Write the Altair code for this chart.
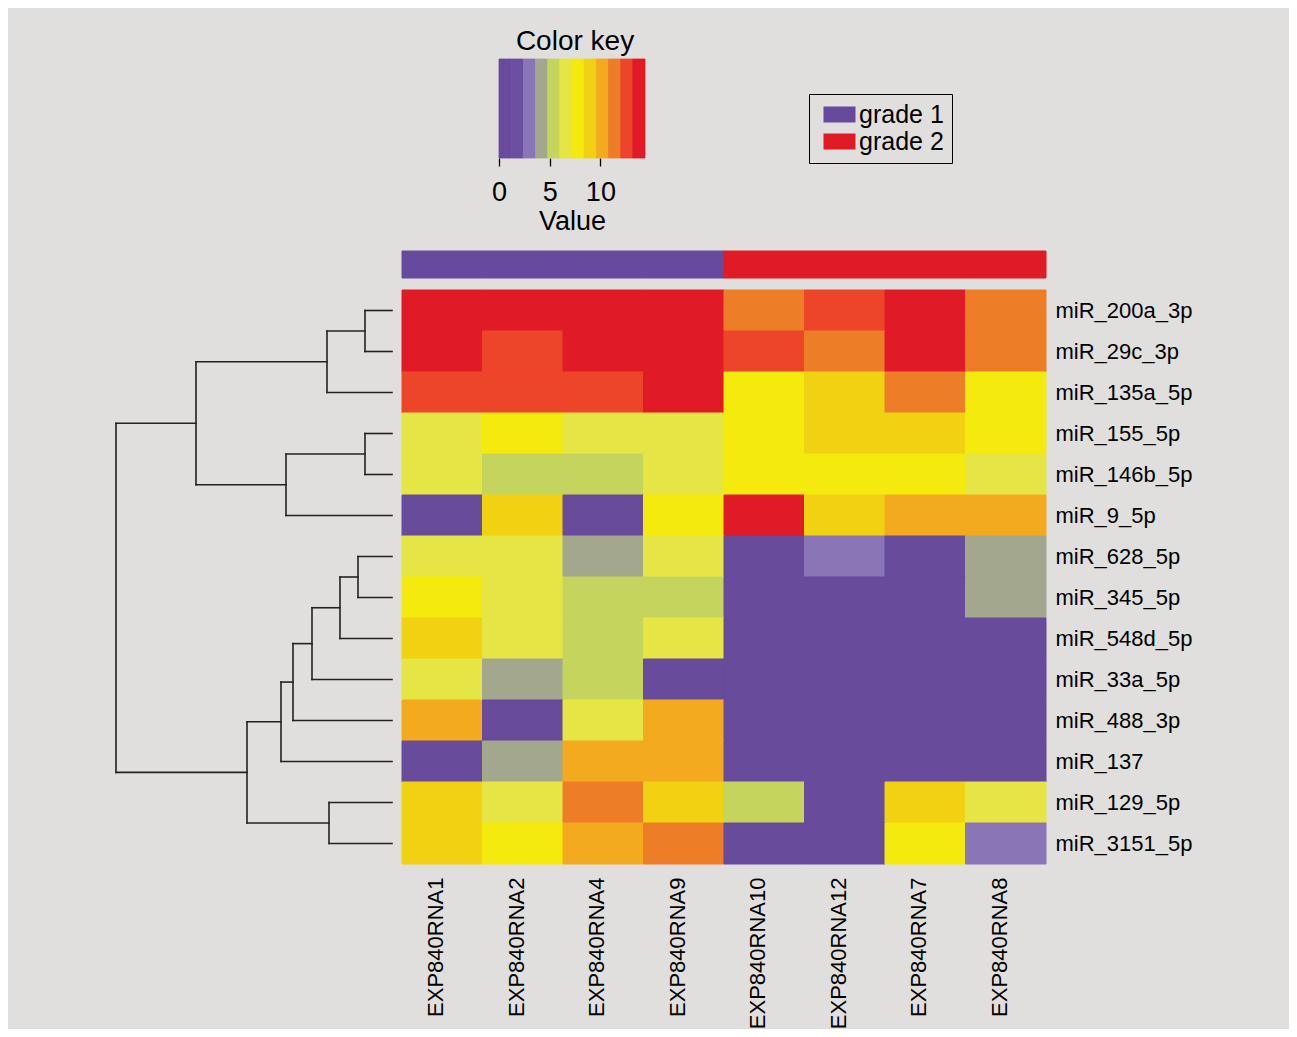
import altair as alt
import pandas as pd

FONT = "Liberation Sans"

# ---- data ----
samples = ["EXP840RNA1", "EXP840RNA2", "EXP840RNA4", "EXP840RNA9",
           "EXP840RNA10", "EXP840RNA12", "EXP840RNA7", "EXP840RNA8"]
sample_grade = ["grade 1", "grade 1", "grade 1", "grade 1",
                "grade 2", "grade 2", "grade 2", "grade 2"]
grade_levels = ["grade 1", "grade 2"]
grade_colors = ["#674A9D", "#E01B27"]

mirnas = ["miR_200a_3p", "miR_29c_3p", "miR_135a_5p", "miR_155_5p",
          "miR_146b_5p", "miR_9_5p", "miR_628_5p", "miR_345_5p",
          "miR_548d_5p", "miR_33a_5p", "miR_488_3p", "miR_137",
          "miR_129_5p", "miR_3151_5p"]

# expression values (rows = miRNAs, cols = samples), estimated from colours
values = [
    [13.8, 13.8, 13.8, 13.8, 11.4, 12.6, 13.8, 11.4],
    [13.8, 12.6, 13.8, 13.8, 12.6, 11.4, 13.8, 11.4],
    [12.6, 12.6, 12.6, 13.8, 7.8, 9.0, 11.4, 7.8],
    [6.6, 7.8, 6.6, 6.6, 7.8, 9.0, 9.0, 7.8],
    [6.6, 5.4, 5.4, 6.6, 7.8, 7.8, 7.8, 6.6],
    [0.6, 9.0, 0.6, 7.8, 13.8, 9.0, 10.2, 10.2],
    [6.6, 6.6, 4.2, 6.6, 0.6, 3.0, 0.6, 4.2],
    [7.8, 6.6, 5.4, 5.4, 0.6, 0.6, 0.6, 4.2],
    [9.0, 6.6, 5.4, 6.6, 0.6, 0.6, 0.6, 0.6],
    [6.6, 4.2, 5.4, 0.6, 0.6, 0.6, 0.6, 0.6],
    [10.2, 0.6, 6.6, 10.2, 0.6, 0.6, 0.6, 0.6],
    [0.6, 4.2, 10.2, 10.2, 0.6, 0.6, 0.6, 0.6],
    [9.0, 6.6, 11.4, 9.0, 5.4, 0.6, 9.0, 6.6],
    [9.0, 7.8, 10.2, 11.4, 0.6, 0.6, 7.8, 3.0],
]

# colour key bins
key_breaks = [0, 1.2, 2.4, 3.6, 4.8, 6.0, 7.2, 8.4, 9.6, 10.8, 12.0, 13.2, 14.4]
key_colors = ["#694B9C", "#6C4FA0", "#8A75B6", "#A2A78E", "#C5D45C", "#E5E545",
              "#F4EA0D", "#F0D213", "#F4AA1F", "#EE7D28", "#ED452A", "#E01B27"]
key_ticks = [0, 5, 10]

# row dendrogram: (node, child a, child b, merge height)
merges = [
    ("n1", 0, 1, 1.35),
    ("n2", "n1", 2, 3.25),
    ("n3", 3, 4, 1.35),
    ("n4", "n3", 5, 5.3),
    ("n5", "n2", "n4", 9.8),
    ("n6", 6, 7, 1.7),
    ("n7", "n6", 8, 2.6),
    ("n8", "n7", 9, 4.0),
    ("n9", "n8", 10, 4.95),
    ("n10", "n9", 11, 5.55),
    ("n11", 12, 13, 3.15),
    ("n12", "n10", "n11", 7.25),
    ("n13", "n5", "n12", 13.8),
]

# ---- tables ----
heat_df = pd.DataFrame([
    {"mirna": m, "sample": s, "value": values[i][j]}
    for i, m in enumerate(mirnas) for j, s in enumerate(samples)
])
bar_df = pd.DataFrame({"sample": samples, "grade": sample_grade,
                       "row": ["grade"] * len(samples)})
key_df = pd.DataFrame({
    "start": key_breaks[:-1],
    "end": key_breaks[1:],
    "mid": [(a + b) / 2 for a, b in zip(key_breaks[:-1], key_breaks[1:])],
    "row": ["key"] * (len(key_breaks) - 1),
})

pos = {i: (0.0, i + 0.5) for i in range(len(mirnas))}
segs = []
for name, a, b, h in merges:
    ha, ya = pos[a]
    hb, yb = pos[b]
    segs.append({"h1": h, "h2": h, "y1": ya, "y2": yb})
    segs.append({"h1": ha, "h2": h, "y1": ya, "y2": ya})
    segs.append({"h1": hb, "h2": h, "y1": yb, "y2": yb})
    pos[name] = (h, (ya + yb) / 2)
seg_df = pd.DataFrame(segs)
max_h = max(m[3] for m in merges)

# ---- layout (plot-area pixels) ----
HEAT_X = [394, 1038]
HEAT_Y = [232, 806]
BAR_Y = [193, 220]
DENDRO_X = [384, 108]
KEY_X = [491, 637]
KEY_Y = [1, 100]

color_scale = alt.Scale(type="threshold", domain=key_breaks[1:-1], range=key_colors)

heat = alt.Chart(heat_df).mark_rect(strokeWidth=1).encode(
    x=alt.X("sample:N",
            scale=alt.Scale(domain=samples, range=HEAT_X, paddingInner=0, paddingOuter=0),
            axis=alt.Axis(orient="bottom", title=None, labelAngle=-90, domain=False,
                          ticks=False, labelPadding=13, labelFontSize=22, labelFont=FONT,
                          labelColor="black", labelOffset=-6, labelLimit=300)),
    y=alt.Y("mirna:N",
            scale=alt.Scale(domain=mirnas, range=HEAT_Y, paddingInner=0, paddingOuter=0),
            axis=alt.Axis(orient="right", title=None, domain=False, ticks=False,
                          labelPadding=9, labelFontSize=22, labelFont=FONT,
                          labelColor="black", labelLimit=300)),
    color=alt.Color("value:Q", scale=color_scale, legend=None),
    stroke=alt.Stroke("value:Q", scale=color_scale, legend=None),
)

colbar = alt.Chart(bar_df).mark_rect(strokeWidth=1).encode(
    x=alt.X("sample:N",
            scale=alt.Scale(domain=samples, range=HEAT_X, paddingInner=0, paddingOuter=0),
            axis=None),
    y=alt.Y("row:N",
            scale=alt.Scale(domain=["grade"], range=BAR_Y, paddingInner=0, paddingOuter=0),
            axis=None),
    color=alt.Color("grade:N",
                    scale=alt.Scale(domain=grade_levels, range=grade_colors),
                    legend=alt.Legend(title=None, orient="none", legendX=801, legendY=36,
                                      padding=8, strokeColor="black",
                                      symbolType="M-2,-1H2V1H-2Z", symbolSize=256,
                                      symbolStrokeWidth=0, symbolOpacity=1,
                                      symbolOffset=10, labelOffset=7, rowPadding=1,
                                      labelFontSize=25, labelFont=FONT,
                                      labelColor="black", labelLimit=300)),
    stroke=alt.Stroke("grade:N",
                      scale=alt.Scale(domain=grade_levels, range=grade_colors),
                      legend=None),
)

dendro = alt.Chart(seg_df).mark_rule(color="#222222", strokeWidth=1.6, strokeCap="square").encode(
    x=alt.X("h1:Q", scale=alt.Scale(domain=[0, max_h], range=DENDRO_X, nice=False, zero=False),
            axis=None),
    x2="h2:Q",
    y=alt.Y("y1:Q", scale=alt.Scale(domain=[0, len(mirnas)], range=HEAT_Y, nice=False, zero=False),
            axis=None),
    y2="y2:Q",
)

key = alt.Chart(key_df).mark_rect(strokeWidth=0.8).encode(
    x=alt.X("start:Q",
            scale=alt.Scale(domain=[key_breaks[0], key_breaks[-1]], range=KEY_X,
                            nice=False, zero=False),
            axis=alt.Axis(orient="bottom", offset=KEY_Y[1] - HEAT_Y[1], values=key_ticks,
                          format="d", domain=False, grid=False, tickSize=8,
                          tickColor="black", tickWidth=1.3, labelFontSize=27,
                          labelPadding=13, labelFont=FONT, labelColor="black",
                          labelFlush=False, title="Value", titleFontSize=27,
                          titleFont=FONT, titleFontWeight="normal", titleColor="black",
                          titlePadding=3)),
    x2="end:Q",
    y=alt.Y("row:N",
            scale=alt.Scale(domain=["key"], range=KEY_Y, paddingInner=0, paddingOuter=0),
            axis=None),
    color=alt.Color("mid:Q", scale=color_scale, legend=None),
    stroke=alt.Stroke("mid:Q", scale=color_scale, legend=None),
)

chart = alt.layer(dendro, colbar, heat, key).resolve_scale(
    x="independent", y="independent", color="independent", stroke="independent"
).properties(
    width=1038,
    height=806,
    background="#E0DFDD",
    padding={"left": 0, "top": 50, "right": 243, "bottom": 165},
    autosize=alt.AutoSizeParams(type="none"),
    title=alt.Title("Color key", fontSize=28, font=FONT, fontWeight="normal",
                    color="black", anchor="start", frame="group", align="center",
                    dx=567, offset=2),
).configure_view(stroke=None)

chart.save("out.html", embed_options={"renderer": "svg", "actions": False})
